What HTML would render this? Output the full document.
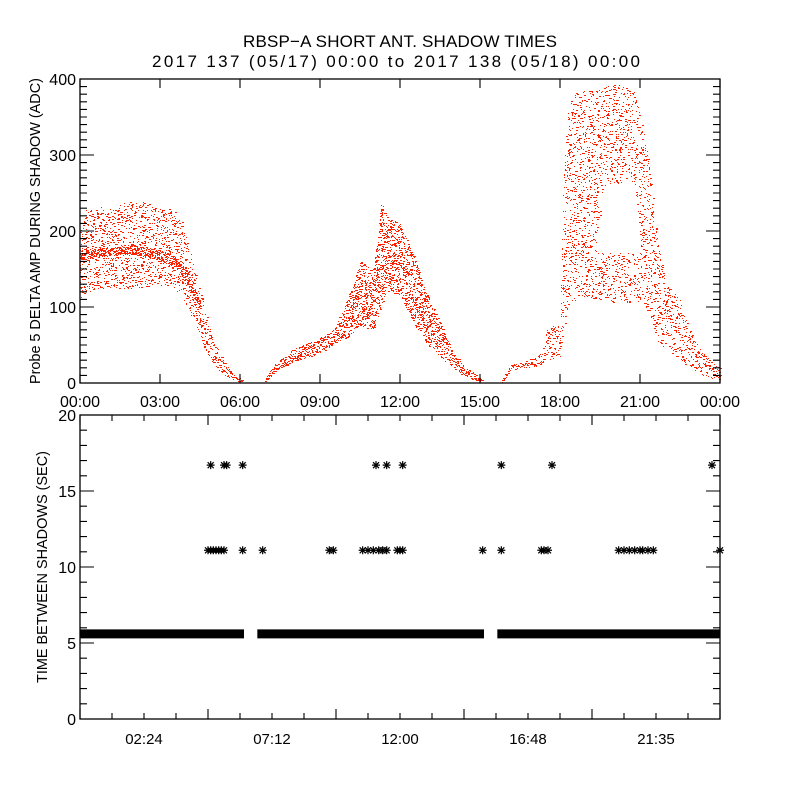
<!DOCTYPE html>
<html><head><meta charset="utf-8"><style>
html,body{margin:0;padding:0;background:#fff;}
svg{display:block;font-family:"Liberation Sans",sans-serif;}
text{fill:#000;}
</style></head><body>
<svg id="chart" width="800" height="800" viewBox="0 0 800 800">
<text x="400" y="47" text-anchor="middle" font-size="17" textLength="314">RBSP−A SHORT ANT. SHADOW TIMES</text>
<text x="396" y="67" text-anchor="middle" font-size="17" textLength="488">2017 137 (05/17) 00:00 to 2017 138 (05/18) 00:00</text>
<g id="topPanel"></g>
<g id="botPanel"></g>
<text transform="translate(40,231) rotate(-90)" text-anchor="middle" font-size="14.5" textLength="306">Probe 5 DELTA AMP DURING SHADOW (ADC)</text>
<text transform="translate(47,567) rotate(-90)" text-anchor="middle" font-size="14.5" textLength="232">TIME BETWEEN SHADOWS (SEC)</text>
</svg>
<script>
// ---- top panel data: point-cloud bands (hour, low ADC, high ADC)
const band1T  = [0.0,0.2,1.0,2.2,3.0,3.5,3.8,4.0,4.3,4.6,5.0,5.4,5.8,6.1];
const band1Lo = [110,120,125,125,128,125,115,100,80,50,25,10,4,1];
const band1Hi = [200,228,233,240,230,228,215,195,150,110,60,30,10,5];
const core1T  = [0.0,1.0,2.0,3.0,3.6,4.0,4.5];
const core1Lo = [162,167,170,162,152,132,97];
const core1Hi = [176,178,182,175,166,146,108];
const band2T  = [6.9,7.3,8.0,9.0,9.5,10.0,10.5,11.0,11.3,11.5,12.0,12.5,13.0,13.5,14.0,14.5,15.0,15.1];
const band2Lo = [0,15,28,40,50,60,75,70,100,120,115,80,50,35,18,8,1,0];
const band2Hi = [3,25,45,60,70,110,160,150,240,220,210,170,120,80,40,20,8,3];
const band3T  = [15.8,16.2,17.0,17.3,17.5,18.0,18.1,18.3,18.6,19.4,20.0,20.8,21.1,21.3,21.7,22.0,22.5,23.0,23.5,24.0];
const band3Lo = [0,18,20,25,30,35,60,100,110,110,105,105,110,90,50,45,30,15,8,5];
const band3Hi = [3,27,32,40,70,80,250,370,385,385,395,385,340,300,180,130,110,60,35,20];
const gap3T   = [19.4,19.6,20.8,21.05];
const gap3Lo  = [172,172,172,172];
const gap3Hi  = [175,260,265,175];
// ---- bottom panel data
const bandRanges = [[0.0,6.15],[6.65,15.15],[15.65,24.0]];
const bandValue  = 5.6;
const star17T = [4.9,5.4,5.5,6.1,11.1,11.5,12.1,15.8,17.7,23.7];
const star17V = 16.7;
const star11T = [4.8,4.9,5.0,5.1,5.2,5.3,5.4,6.1,6.85,9.35,9.5,10.6,10.8,11.0,11.2,11.35,11.5,11.9,12.0,12.1,15.1,15.8,17.3,17.4,17.55,20.2,20.4,20.6,20.8,21.0,21.1,21.3,21.5,24.0];
const star11V = 11.1;
const topYTicks = [0,100,200,300,400];
const topXLabels = ["00:00","03:00","06:00","09:00","12:00","15:00","18:00","21:00","00:00"];
const botYTicks = [0,5,10,15,20];
const botXLabels = ["02:24","07:12","12:00","16:48","21:35"];

const NS="http://www.w3.org/2000/svg";
const L=80,R=720;
const xH=h=>L+(R-L)*h/24;
const yT=v=>383-v*0.76;
const yB=v=>719-v*15.2;
function mk(tag,attrs,parent){const e=document.createElementNS(NS,tag);for(const k in attrs)e.setAttribute(k,attrs[k]);parent.appendChild(e);return e;}
function interp(ts,vs,t){for(let i=0;i<ts.length-1;i++){if(t>=ts[i]&&t<=ts[i+1]){const f=(t-ts[i])/(ts[i+1]-ts[i]);return vs[i]+f*(vs[i+1]-vs[i]);}}return null;}
function hash(n){const s=Math.sin(n*12.9898+78.233)*43758.5453;return s-Math.floor(s);}

const topG=document.getElementById('topPanel'), botG=document.getElementById('botPanel');
let seed=1;
function cloud(T,Lo,Hi,dens,name,color,skipT,skipLo,skipHi){
  let d="";
  for(let px=Math.ceil(xH(T[0]));px<=xH(T[T.length-1]);px++){
    const t=(px-L)/(R-L)*24;const lo=interp(T,Lo,t),hi=interp(T,Hi,t);if(lo===null)continue;
    const y1=yT(hi),y0=yT(lo);const span=y0-y1;const n=Math.max(2,Math.round(span*dens+1.5));
    let sl=null,sh=null;if(skipT){sl=interp(skipT,skipLo,t);sh=interp(skipT,skipHi,t);}
    for(let j=0;j<n;j++){seed++;const y=Math.round(y1+hash(seed)*span);
      if(sl!==null&&y<yT(sl)&&y>yT(sh))continue;
      const w=hash(seed*1.7)<0.3?2:1;
      d+="M"+px+" "+y+"h"+w+"v1h"+(-w)+"z";}
  }
  const p=mk('path',{d:d,fill:color,'shape-rendering':'crispEdges'},topG);
  
  
}
cloud(band1T,band1Lo,band1Hi,0.13,'cloud-0000-0600','#ff2000');
cloud(core1T,core1Lo,core1Hi,0.25,'cloud-core-0000-0430','#ff2000');
cloud(band2T,band2Lo,band2Hi,0.25,'cloud-0700-1500','#ff2000');
cloud(band3T,band3Lo,band3Hi,0.11,'cloud-1600-2400','#ff2000',gap3T,gap3Lo,gap3Hi);

const f1=mk('rect',{x:80,y:79,width:640,height:304,fill:'none',stroke:'#000','stroke-width':1.3},topG);


let tk="";
for(let v=0;v<=400;v+=10){const y=yT(v);const len=v%100===0?14:7;tk+=`M80 ${y}h${len}M720 ${y}h${-len}`;}
for(let i=0;i<=8;i++){const x=xH(i*3);tk+=`M${x} 383v-9M${x} 79v9`;}
const tp=mk('path',{d:tk,stroke:'#000','stroke-width':1.1,fill:'none'},topG);


topYTicks.forEach(v=>{const t=mk('text',{x:76,y:yT(v)+6,'text-anchor':'end','font-size':16},topG);t.textContent=v;
  
  });
topXLabels.forEach((s,i)=>{const t=mk('text',{x:xH(i*3),y:407,'text-anchor':'middle','font-size':16},topG);t.textContent=s;
  
  });

bandRanges.forEach(r=>{const b=mk('rect',{x:xH(r[0]),y:yB(bandValue)-4.5,width:xH(r[1])-xH(r[0]),height:9,fill:'#000'},botG);
  
  });
function star(t,v){const x=xH(t),y=yB(v);const s=mk('path',{d:`M${x-4} ${y}h8M${x} ${y-4}v8M${x-3} ${y-3}l6 6M${x-3} ${y+3}l6 -6`,stroke:'#000','stroke-width':1.2},botG);
  
  }
star17T.forEach(t=>star(t,star17V));
star11T.forEach(t=>star(t,star11V));
const f2=mk('rect',{x:80,y:415,width:640,height:304,fill:'none',stroke:'#000','stroke-width':1.3},botG);


let tb="";
for(let v=0;v<=20;v++){const y=yB(v);const len=v%5===0?14:7;tb+=`M80 ${y}h${len}M720 ${y}h${-len}`;}
for(let i=0;i<=20;i++){const x=xH(i*1.2);const len=i%4===0?10:6;tb+=`M${x} 719v${-len}M${x} 415v${len}`;}
const bp=mk('path',{d:tb,stroke:'#000','stroke-width':1.1,fill:'none'},botG);


botYTicks.forEach(v=>{const t=mk('text',{x:76,y:yB(v)+6,'text-anchor':'end','font-size':16},botG);t.textContent=v;
  
  });
botXLabels.forEach((s,i)=>{const t=mk('text',{x:xH((i+0.5)*4.8),y:744,'text-anchor':'middle','font-size':15},botG);t.textContent=s;
  
  });
</script>
</body></html>
